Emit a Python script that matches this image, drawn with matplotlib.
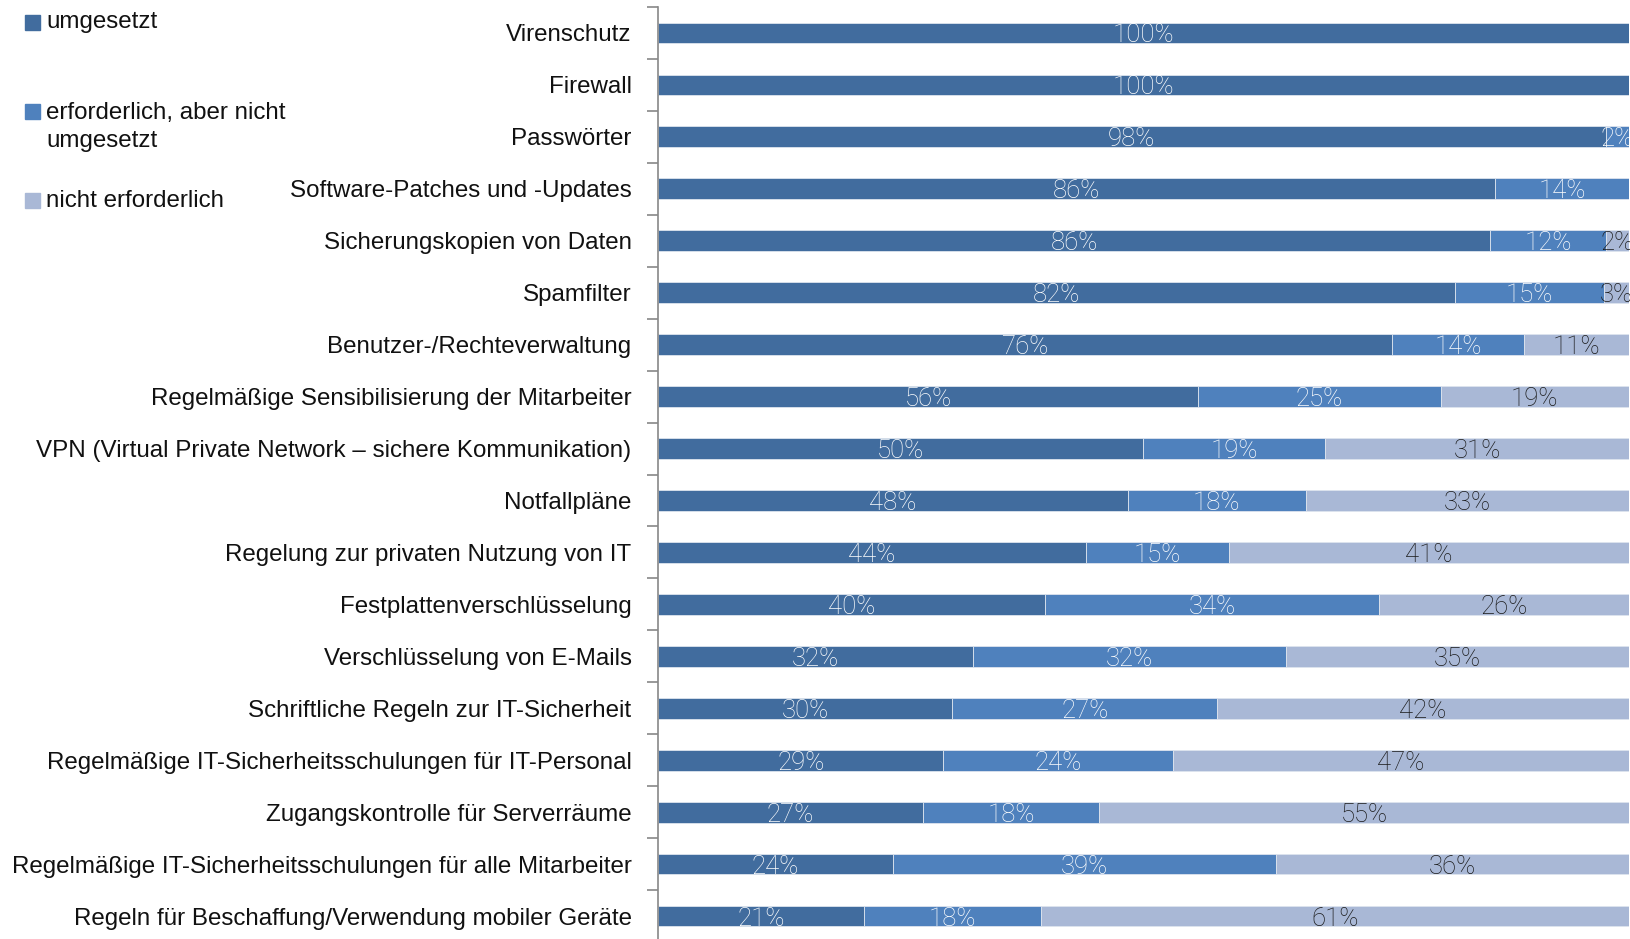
import matplotlib.pyplot as plt
from matplotlib.patches import Rectangle
import numpy as np

# categories, top to bottom
categories = [
    "Virenschutz",
    "Firewall",
    "Passwörter",
    "Software-Patches und -Updates",
    "Sicherungskopien von Daten",
    "Spamfilter",
    "Benutzer-/Rechteverwaltung",
    "Regelmäßige Sensibilisierung der Mitarbeiter",
    "VPN (Virtual Private Network – sichere Kommunikation)",
    "Notfallpläne",
    "Regelung zur privaten Nutzung von IT",
    "Festplattenverschlüsselung",
    "Verschlüsselung von E-Mails",
    "Schriftliche Regeln zur IT-Sicherheit",
    "Regelmäßige IT-Sicherheitsschulungen für IT-Personal",
    "Zugangskontrolle für Serverräume",
    "Regelmäßige IT-Sicherheitsschulungen für alle Mitarbeiter",
    "Regeln für Beschaffung/Verwendung mobiler Geräte",
]

# shares in percent
umgesetzt = [100, 100, 97.6, 86.2, 85.7, 82.1, 75.6, 55.6, 50.0, 48.4,
             44.1, 39.9, 32.4, 30.3, 29.4, 27.3, 24.2, 21.2]
erforderlich = [0, 0, 2.4, 13.8, 11.9, 15.3, 13.6, 25.0, 18.7, 18.3,
                14.7, 34.4, 32.3, 27.3, 23.6, 18.1, 39.4, 18.2]
nicht_erf = [0, 0, 0, 0, 2.4, 2.6, 10.8, 19.4, 31.3, 33.3,
             41.2, 25.7, 35.3, 42.4, 47.0, 54.6, 36.4, 60.6]

series_names = ["umgesetzt", "erforderlich, aber nicht\numgesetzt", "nicht erforderlich"]
colors = ["#416c9e", "#4f81bd", "#a9b8d6"]
text_colors = ["white", "white", "#1a1a1a"]

fig = plt.figure(figsize=(16.31, 9.39), dpi=100)
ax = fig.add_axes([658 / 1631, -3 / 939, 971 / 1631, 935 / 939])

y = np.arange(len(categories))
left = np.zeros(len(categories))
for vals, col, tcol in zip([umgesetzt, erforderlich, nicht_erf], colors, text_colors):
    vals = np.array(vals, dtype=float)
    ax.barh(y, vals, left=left, height=0.4, color=col, edgecolor="#dde4ee", linewidth=0.6)
    for yi, l, v in zip(y, left, vals):
        if v > 0:
            ax.text(l + v / 2, yi, f"{v:.0f}%", ha="center", va="center_baseline",
                    color=tcol, fontsize=18.5, family="Roboto", fontweight="light")
    left += vals

ax.set_xlim(0, 100)
ax.set_ylim(len(categories) - 0.5, -0.5)
ax.set_yticks(y)
ax.set_yticklabels(categories, fontsize=17.4, family="Liberation Sans", color="#111111")
ax.set_yticks(np.arange(-0.5, len(categories), 1), minor=True)
ax.tick_params(axis="y", which="major", length=0, pad=19)
ax.tick_params(axis="y", which="minor", length=8, color="#888888", width=1.2)
ax.set_xticks([])
for s in ["top", "right", "bottom"]:
    ax.spines[s].set_visible(False)
ax.spines["left"].set_color("#888888")
ax.spines["left"].set_linewidth(1.2)

# legend drawn by hand to mimic the uneven spacing
legend_sq = [22, 111, 200]
legend_txt = [22, 127, 201]
for name, col, sy, ty in zip(series_names, colors, legend_sq, legend_txt):
    fig.patches.append(Rectangle((25 / 1631, 1 - (sy + 7.5) / 939), 15 / 1631, 15 / 939,
                                 transform=fig.transFigure, color=col))
    fig.text(46 / 1631, 1 - ty / 939, name, ha="left", va="center",
             fontsize=17.4, family="Liberation Sans", color="#111111", linespacing=1.3)

fig.savefig("out.png", dpi=100)
